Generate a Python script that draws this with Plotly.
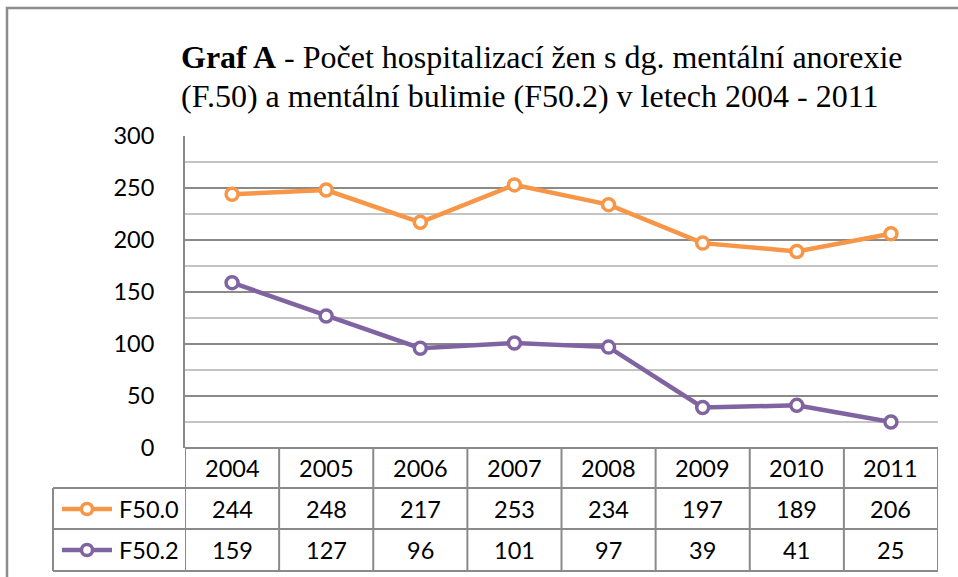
import plotly.graph_objects as go

years = ["2004", "2005", "2006", "2007", "2008", "2009", "2010", "2011"]
f500 = [244, 248, 217, 253, 234, 197, 189, 206]
f502 = [159, 127, 96, 101, 97, 39, 41, 25]
series_names = ["F50.0", "F50.2"]
series_colors = ["#F79646", "#8064A2"]
y_ticks = [0, 50, 100, 150, 200, 250, 300]
title_lines = ["<b>Graf A</b> - Počet hospitalizací žen s dg. mentální anorexie",
               "(F.50) a mentální bulimie (F50.2) v letech 2004 - 2011"]

W, H = 958, 577
L, R, T, B = 185, 938, 136, 448  # plot area in px


def px(x):
    return (x - L) / (R - L)


def py(y):
    return (B - y) / (B - T)


GRID = "#8a8a8a"
MINOR = "#c4c4c4"
TXT = dict(family="Lato, 'Open Sans', sans-serif", size=23.5, color="#000000")

fig = go.Figure()
xs = list(range(len(years)))
for vals, name, col in zip([f500, f502], series_names, series_colors):
    fig.add_trace(go.Scatter(
        x=xs, y=vals, name=name, mode="lines+markers",
        line=dict(color=col, width=4.5),
        marker=dict(symbol="circle", size=12, color="white",
                    line=dict(color=col, width=3.5)),
        showlegend=False, cliponaxis=False,
    ))

shapes = []
annotations = []

# outer chart border
shapes.append(dict(type="rect", xref="paper", yref="paper",
                   x0=px(7), x1=px(990), y0=py(610), y1=py(8),
                   line=dict(color="#8c8c8c", width=2.5), layer="below"))

# data table lines
row_y = [448, 488, 529, 571]
n = len(years)
for i in range(n + 1):
    shapes.append(dict(type="line", xref="x", yref="paper",
                       x0=i - 0.5, x1=i - 0.5, y0=py(448), y1=py(571),
                       line=dict(color=GRID, width=2)))
for yy in row_y[1:]:
    shapes.append(dict(type="line", xref="paper", yref="paper",
                       x0=px(53), x1=px(938), y0=py(yy), y1=py(yy),
                       line=dict(color=GRID, width=2)))
shapes.append(dict(type="line", xref="paper", yref="paper",
                   x0=px(53), x1=px(53), y0=py(488), y1=py(571),
                   line=dict(color=GRID, width=2)))

# header years
for i, yr in enumerate(years):
    annotations.append(dict(x=i, y=py(468), xref="x", yref="paper", text=yr,
                            showarrow=False, font=TXT, xanchor="center", yanchor="middle"))

# value rows and legend keys
row_centers = [509, 550]
for vals, name, col, yc in zip([f500, f502], series_names, series_colors, row_centers):
    for i, v in enumerate(vals):
        annotations.append(dict(x=i, y=py(yc), xref="x", yref="paper", text=str(v),
                                showarrow=False, font=TXT, xanchor="center", yanchor="middle"))
    shapes.append(dict(type="line", xref="paper", yref="paper",
                       x0=px(62), x1=px(112), y0=py(yc), y1=py(yc),
                       line=dict(color=col, width=4.5)))
    r = 5.5
    shapes.append(dict(type="circle", xref="paper", yref="paper",
                       x0=px(87 - r), x1=px(87 + r), y0=py(yc + r), y1=py(yc - r),
                       fillcolor="white", line=dict(color=col, width=3.5)))
    annotations.append(dict(x=px(117), y=py(yc), xref="paper", yref="paper", text=name,
                            showarrow=False, font=TXT, xanchor="left", yanchor="middle"))

# title (two lines)
TFONT = dict(family="'Liberation Serif', 'Times New Roman', serif", size=32, color="#000000")
for line, yc in zip(title_lines, [57, 96]):
    annotations.append(dict(
        x=px(179), y=py(yc), xref="paper", yref="paper", text=line,
        showarrow=False, align="left", xanchor="left", yanchor="middle", font=TFONT,
    ))

fig.update_layout(
    width=W, height=H,
    margin=dict(l=L, r=W - R, t=T, b=H - B, pad=0),
    paper_bgcolor="white", plot_bgcolor="white",
    shapes=shapes, annotations=annotations,
    xaxis=dict(range=[-0.5, n - 0.5], showticklabels=False, showgrid=False,
               zeroline=False, showline=False, ticks="", fixedrange=True,
               tickvals=xs),
    yaxis=dict(range=[0, 300], tickvals=y_ticks, ticktext=[str(t) for t in y_ticks],
               showgrid=True, gridcolor=GRID, gridwidth=2,
               minor=dict(dtick=25, showgrid=True, gridcolor=MINOR, gridwidth=2),
               zeroline=True, zerolinecolor=GRID, zerolinewidth=2,
               showline=True, linecolor=GRID, linewidth=2,
               ticks="", ticklabelstandoff=24, tickfont=TXT, fixedrange=True),
    showlegend=False,
)

fig.write_html(
    "out.html",
    config={"displayModeBar": False},
    post_script="document.body.style.margin='0';document.body.style.overflow='hidden';",
)
